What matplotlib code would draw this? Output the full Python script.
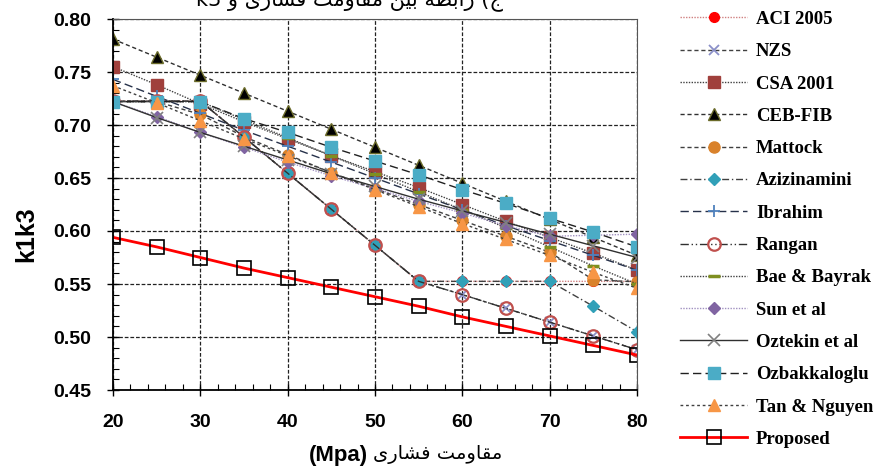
import matplotlib
matplotlib.use("Agg")
import matplotlib.pyplot as plt
from matplotlib.ticker import MultipleLocator

# compressive strength (MPa)
fc = [20, 25, 30, 35, 40, 45, 50, 55, 60, 65, 70, 75, 80]

# k1k3
aci = [0.7225, 0.7225, 0.7225, 0.6885, 0.6545, 0.6205, 0.5865, 0.5525, 0.5525, 0.5525, 0.5525, 0.5525, 0.5525]
nzs = [0.7225, 0.7225, 0.7225, 0.6885, 0.6545, 0.6205, 0.5865, 0.5525, 0.540, 0.527, 0.514, 0.501, 0.488]
csa = [0.755, 0.738, 0.720, 0.703, 0.687, 0.671, 0.656, 0.641, 0.625, 0.609, 0.594, 0.579, 0.563]
ceb = [0.781, 0.764, 0.747, 0.730, 0.713, 0.696, 0.679, 0.662, 0.645, 0.628, 0.611, 0.594, 0.577]
mattock = [0.722, 0.722, 0.710, 0.689, 0.672, 0.655, 0.640, 0.625, 0.610, 0.595, 0.580, 0.554, 0.552]
azizinamini = [0.7225, 0.7225, 0.7225, 0.6885, 0.6545, 0.6205, 0.5865, 0.5525, 0.5525, 0.5525, 0.5525, 0.529, 0.505]
ibrahim = [0.743, 0.727, 0.711, 0.695, 0.680, 0.665, 0.650, 0.635, 0.620, 0.605, 0.591, 0.577, 0.563]
rangan = [0.7225, 0.7225, 0.7225, 0.6885, 0.6545, 0.6205, 0.5865, 0.5525, 0.540, 0.527, 0.514, 0.501, 0.488]
bae = [0.722, 0.722, 0.722, 0.705, 0.688, 0.671, 0.654, 0.637, 0.620, 0.603, 0.585, 0.567, 0.550]
sun = [0.722, 0.708, 0.693, 0.679, 0.665, 0.652, 0.640, 0.628, 0.617, 0.605, 0.595, 0.596, 0.597]
oztekin = [0.722, 0.707, 0.693, 0.680, 0.667, 0.654, 0.642, 0.630, 0.619, 0.608, 0.597, 0.586, 0.575]
ozbak = [0.722, 0.722, 0.722, 0.706, 0.693, 0.679, 0.666, 0.653, 0.639, 0.626, 0.612, 0.599, 0.585]
tan = [0.737, 0.721, 0.704, 0.687, 0.671, 0.655, 0.639, 0.623, 0.607, 0.592, 0.577, 0.561, 0.546]
proposed = [0.594, 0.585, 0.575, 0.565, 0.556, 0.547, 0.538, 0.529, 0.519, 0.510, 0.501, 0.492, 0.483]

labels = ["ACI 2005", "NZS", "CSA 2001", "CEB-FIB", "Mattock", "Azizinamini", "Ibrahim",
          "Rangan", "Bae & Bayrak", "Sun et al", "Oztekin et al", "Ozbakkaloglu",
          "Tan & Nguyen", "Proposed"]
values = [aci, nzs, csa, ceb, mattock, azizinamini, ibrahim, rangan, bae, sun,
          oztekin, ozbak, tan, proposed]

STYLES = [
    dict(color="#D08080", ls=(0, (1, 1)), lw=1.0, marker="o", ms=7, mfc="#FF0000", mec="#FF0000"),
    dict(color="#404040", ls=(0, (3, 2)), lw=1.0, marker="x", ms=7, mfc="#8A8FC8", mec="#8A8FC8", mew=1.3),
    dict(color="#404040", ls=(0, (1, 1)), lw=1.0, marker="s", ms=8, mfc="#A0403C", mec="#A0403C"),
    dict(color="#303030", ls=(0, (3, 2)), lw=1.0, marker="^", ms=8, mfc="#000000", mec="#6B6B2A"),
    dict(color="#404040", ls=(0, (3, 2)), lw=1.0, marker="o", ms=8, mfc="#D9822B", mec="#D9822B"),
    dict(color="#404040", ls=(0, (5, 2, 1, 2)), lw=1.0, marker="D", ms=6, mfc="#31A0B8", mec="#31A0B8"),
    dict(color="#26314A", ls=(0, (6, 3)), lw=1.0, marker="+", ms=8, mfc="#4F81BD", mec="#4F81BD", mew=1.3),
    dict(color="#303030", ls=(0, (6, 2, 1, 2, 1, 2)), lw=1.0, marker="o", ms=9, mfc="none", mec="#C0504D", mew=1.6),
    dict(color="#404040", ls=(0, (1, 1)), lw=1.0, marker="_", ms=8, mfc="#7F8F20", mec="#7F8F20", mew=2.5),
    dict(color="#A090C0", ls=(0, (1, 1)), lw=1.0, marker="D", ms=6.5, mfc="#8064A2", mec="#8064A2"),
    dict(color="#303030", ls="-", lw=1.0, marker="x", ms=8, mfc="#808080", mec="#808080", mew=1.2),
    dict(color="#202020", ls=(0, (6, 3)), lw=1.0, marker="s", ms=9, mfc="#4BACC6", mec="#4BACC6"),
    dict(color="#404040", ls=(0, (2, 2)), lw=1.0, marker="^", ms=8, mfc="#F79646", mec="#F79646"),
    dict(color="#FF0000", ls="-", lw=2.0, marker="s", ms=10, mfc="none", mec="#000000", mew=1.2),
]

# Persian text, written in shaped presentation forms and visual (left-to-right) order
title_fa = "k3 \uFEED \uFBFC\uFEAD\uFE8E\uFEB8\uFED3 \uFE96\uFEE3\uFEED\uFE8E\uFED8\uFEE3 \uFEE6\uFBFF\uFE91 \uFEEA\uFEC4\uFE91\uFE8D\uFEAD (\uFE9D"
xlabel_fa = "\uFBFC\uFEAD\uFE8E\uFEB8\uFED3 \uFE96\uFEE3\uFEED\uFE8E\uFED8\uFEE3"

fig = plt.figure(figsize=(8.79, 4.70), dpi=100)
ax = fig.add_axes([113 / 879, 80 / 470, 524 / 879, 371 / 470])

for lab, vals, st in zip(labels, values, STYLES):
    ax.plot(fc, vals, label=lab, **st)

ax.set_xlim(20, 80)
ax.set_ylim(0.45, 0.80)
ax.xaxis.set_major_locator(MultipleLocator(10))
ax.xaxis.set_minor_locator(MultipleLocator(2))
ax.yaxis.set_major_locator(MultipleLocator(0.05))
ax.yaxis.set_minor_locator(MultipleLocator(0.01))
ax.yaxis.set_major_formatter(plt.FuncFormatter(lambda v, p: f"{v:.2f}"))
ax.tick_params(which="major", direction="inout", length=8, width=1.0)
ax.tick_params(which="minor", direction="in", length=4, width=0.8)
ax.tick_params(axis="x", which="major", pad=13)
ax.tick_params(axis="y", which="major", pad=12)
for lab in ax.get_xticklabels() + ax.get_yticklabels():
    lab.set_family("Liberation Sans")
    lab.set_fontweight("bold")
    lab.set_fontsize(14)
ax.grid(True, which="major", color="#222222", ls=(0, (3, 1.5)), lw=0.9)
ax.set_axisbelow(True)
for side in ["left", "bottom"]:
    ax.spines[side].set_linewidth(1.3)
for side in ["top", "right"]:
    ax.spines[side].set_color("#555555")

ax.set_ylabel("k1k3", family="Liberation Sans", fontweight="bold", fontsize=18)
ax.yaxis.set_label_coords(-0.143, 0.42)

fig.text(368 / 879, 1 - 456 / 470, "(Mpa)", ha="right", va="center",
         family="Liberation Sans", fontweight="bold", fontsize=16)
fig.text(373 / 879, 1 - 454 / 470, xlabel_fa, ha="left", va="center",
         family="DejaVu Sans", fontsize=14)
fig.text(350 / 879, 1.0, title_fa, ha="center", va="center", family="DejaVu Sans", fontsize=15)

fig.legend(loc="upper left", bbox_to_anchor=(665 / 879, 1.009), frameon=False,
           prop={"family": "Liberation Serif", "weight": "bold", "size": 13.5},
           labelspacing=0.81, handlelength=3.6, handletextpad=0.45, borderpad=0.3)

fig.savefig("out.png", dpi=100)
